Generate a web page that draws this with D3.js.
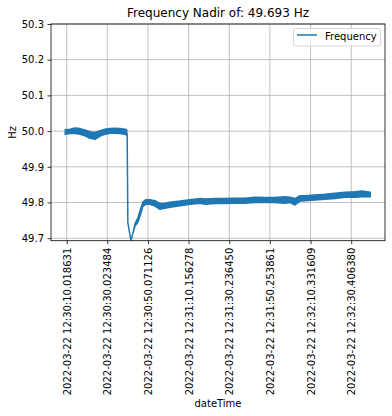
<!DOCTYPE html>
<html><head><meta charset="utf-8">
<script src="https://cdn.jsdelivr.net/npm/d3@7"></script>
<style>body{margin:0;background:#fff}svg{display:block}</style></head>
<body><svg id="c" width="392" height="416"></svg>
<script>
// seconds after 2022-03-22 12:30:00
const times = [9.3, 11.65, 14.11, 16.58, 19.05, 21.51, 23.98, 26.45, 28.91, 31.38, 33.85, 36.31, 38.78, 39.55, 39.85, 40.2, 41.74, 42.73, 43.72, 45.2, 46.19, 47.66, 49.14, 51.11, 53.58, 56.05, 58.51, 60.98, 65.91, 70.85, 75.78, 78.25, 83.18, 88.11, 93.05, 97.98, 102.91, 107.85, 112.78, 117.72, 120.18, 122.65, 125.12, 127.58, 132.52, 137.45, 142.38, 147.32, 152.25, 155.71, 159.8];
const freqHigh = [50.004, 50.005, 50.009, 50.007, 50.003, 49.998, 49.996, 50.001, 50.005, 50.007, 50.008, 50.007, 50.005, 50.004, 49.989, 49.743, 49.693, 49.715, 49.741, 49.758, 49.777, 49.802, 49.808, 49.808, 49.805, 49.797, 49.798, 49.801, 49.804, 49.808, 49.811, 49.810, 49.811, 49.811, 49.812, 49.812, 49.815, 49.814, 49.814, 49.816, 49.815, 49.811, 49.819, 49.819, 49.821, 49.823, 49.826, 49.829, 49.830, 49.832, 49.829];
const freqLow = [49.991, 49.993, 49.994, 49.991, 49.987, 49.980, 49.977, 49.986, 49.991, 49.994, 49.994, 49.993, 49.991, 49.989, 49.989, 49.743, 49.693, 49.715, 49.734, 49.745, 49.762, 49.790, 49.795, 49.795, 49.790, 49.781, 49.784, 49.787, 49.791, 49.795, 49.798, 49.795, 49.797, 49.797, 49.798, 49.798, 49.800, 49.800, 49.800, 49.798, 49.800, 49.793, 49.804, 49.805, 49.807, 49.809, 49.811, 49.815, 49.815, 49.816, 49.816];
const xTickValues = [10.018631, 30.023484, 50.071126, 70.156278, 90.236450, 110.253861, 130.331609, 150.406380];
const xTickLabels = ["2022-03-22 12:30:10.018631", "2022-03-22 12:30:30.023484", "2022-03-22 12:30:50.071126", "2022-03-22 12:31:10.156278", "2022-03-22 12:31:30.236450", "2022-03-22 12:31:50.253861", "2022-03-22 12:32:10.331609", "2022-03-22 12:32:30.406380"];
const yTickValues = [49.7, 49.8, 49.9, 50.0, 50.1, 50.2, 50.3];
const titleText = "Frequency Nadir of: 49.693 Hz";
const seriesName = "Frequency";
const xLabel = "dateTime";
const yLabel = "Hz";

const data = times.map((t, i) => ({t, lo: freqLow[i], hi: freqHigh[i]}));
const L = 51, R = 385, T = 24, B = 240.7;
const FONT = "DejaVu Sans, sans-serif";
const color = "#1f77b4";

const svg = d3.select("#c");
svg.append("rect").attr("width", 392).attr("height", 416).attr("fill", "#fff");

const x = d3.scaleLinear().domain([2.27, 167.07]).range([L, R]);
const y = d3.scaleLinear().domain([49.693, 50.3]).range([B, T]);

// grid
const grid = svg.append("g").attr("stroke", "#b0b0b0").attr("stroke-width", 0.8);
grid.selectAll(".gx").data(xTickValues).join("line")
  .attr("x1", d => x(d)).attr("x2", d => x(d)).attr("y1", T).attr("y2", B);
grid.selectAll(".gy").data(yTickValues).join("line")
  .attr("x1", L).attr("x2", R).attr("y1", d => y(d)).attr("y2", d => y(d));

// data
svg.append("clipPath").attr("id", "clip").append("rect")
  .attr("x", L).attr("y", T).attr("width", R - L).attr("height", B - T);
const area = d3.area().x(d => x(d.t)).y0(d => y(d.lo)).y1(d => y(d.hi));
svg.append("path").datum(data).attr("clip-path", "url(#clip)")
  .attr("d", area).attr("fill", color).attr("stroke", color)
  .attr("stroke-width", 1.5).attr("stroke-linejoin", "round");

// axes
const xAxis = d3.axisBottom(x).tickValues(xTickValues)
  .tickFormat((d, i) => xTickLabels[i]).tickSize(3.5).tickPadding(3.5);
const gx = svg.append("g").attr("transform", `translate(0,${B})`).call(xAxis);
gx.select(".domain").remove();
gx.selectAll(".tick line").attr("stroke", "#000").attr("stroke-width", 0.8);
gx.selectAll(".tick text")
  .attr("font-family", FONT).attr("font-size", 10).attr("fill", "#000")
  .attr("transform", "rotate(-90)")
  .attr("x", -7).attr("y", 0).attr("dy", "0.35em")
  .attr("text-anchor", "end");

const yAxis = d3.axisLeft(y).tickValues(yTickValues)
  .tickFormat(d3.format(".1f")).tickSize(3.5).tickPadding(3.5);
const gy = svg.append("g").attr("transform", `translate(${L},0)`).call(yAxis);
gy.select(".domain").remove();
gy.selectAll(".tick line").attr("stroke", "#000").attr("stroke-width", 0.8);
gy.selectAll(".tick text").attr("font-family", FONT).attr("font-size", 10).attr("fill", "#000");

// spines
svg.append("rect").attr("x", L).attr("y", T).attr("width", R - L).attr("height", B - T)
  .attr("fill", "none").attr("stroke", "#000").attr("stroke-width", 0.8);

// title & labels
svg.append("text").attr("x", (L + R) / 2).attr("y", 17).attr("text-anchor", "middle")
  .attr("font-family", FONT).attr("font-size", 12).attr("fill", "#000").text(titleText);
svg.append("text").attr("x", (L + R) / 2).attr("y", 407).attr("text-anchor", "middle")
  .attr("font-family", FONT).attr("font-size", 10).attr("fill", "#000").text(xLabel);
svg.append("text").attr("transform", `translate(15.5,${(T + B) / 2}) rotate(-90)`)
  .attr("text-anchor", "middle")
  .attr("font-family", FONT).attr("font-size", 10).attr("fill", "#000").text(yLabel);

// legend
const lg = svg.append("g");
lg.append("rect").attr("x", 293.5).attr("y", 28.5).attr("width", 87).attr("height", 17.5)
  .attr("rx", 2).attr("fill", "#fff").attr("fill-opacity", 0.8)
  .attr("stroke", "#cccccc").attr("stroke-width", 0.8);
lg.append("line").attr("x1", 297).attr("x2", 317).attr("y1", 35).attr("y2", 35)
  .attr("stroke", color).attr("stroke-width", 1.5);
lg.append("text").attr("x", 325).attr("y", 39.5)
  .attr("font-family", FONT).attr("font-size", 10).attr("fill", "#000").text(seriesName);
</script>
</body></html>
